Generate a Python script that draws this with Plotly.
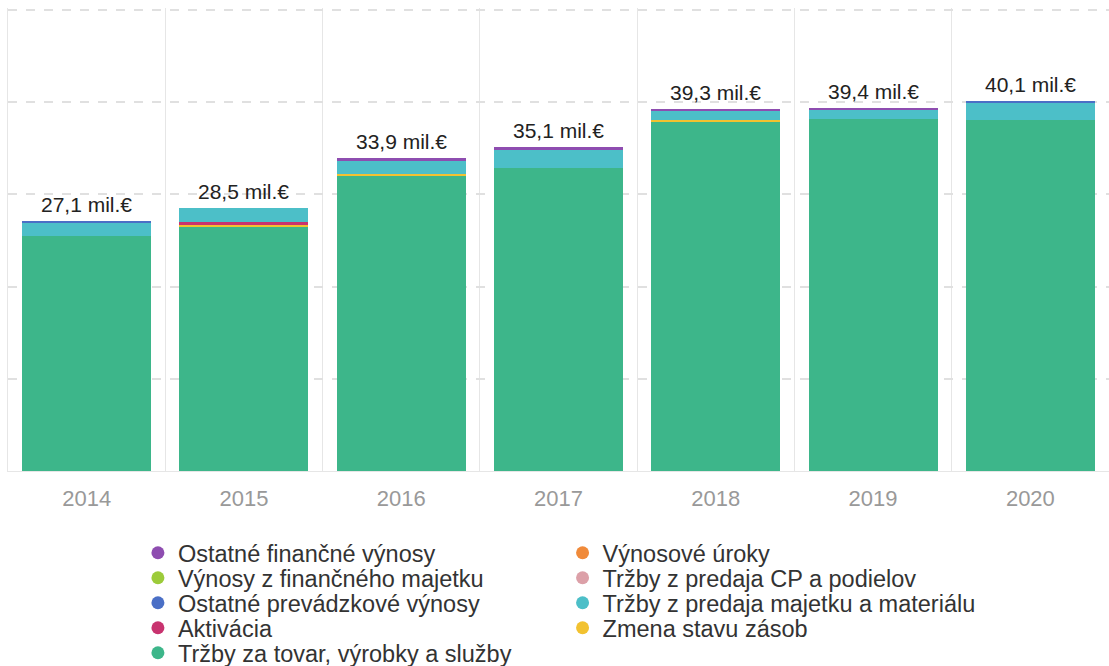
import plotly.graph_objects as go

years = ["2014", "2015", "2016", "2017", "2018", "2019", "2020"]

# values in mil. €
trzby_tovar = [25.45, 26.55, 32.0, 32.85, 37.9, 38.15, 38.1]
zmena_zasob = [0.0, 0.15, 0.15, 0.0, 0.2, 0.0, 0.0]
aktivacia = [0.0, 0.25, 0.0, 0.0, 0.0, 0.0, 0.0]
vynosove_uroky = [0.0, 0.0, 0.0, 0.0, 0.0, 0.0, 0.0]
trzby_cp = [0.0, 0.0, 0.0, 0.0, 0.0, 0.0, 0.0]
vynosy_fin_majetok = [0.0, 0.0, 0.0, 0.0, 0.0, 0.0, 0.0]
trzby_majetok = [1.45, 1.55, 1.5, 1.95, 1.0, 1.05, 1.85]
ostatne_prev = [0.2, 0.0, 0.0, 0.0, 0.0, 0.0, 0.15]
ostatne_fin = [0.0, 0.0, 0.25, 0.3, 0.2, 0.2, 0.0]

totals = [27.1, 28.5, 33.9, 35.1, 39.3, 39.4, 40.1]
total_labels = ["27,1 mil.€", "28,5 mil.€", "33,9 mil.€", "35,1 mil.€",
                "39,3 mil.€", "39,4 mil.€", "40,1 mil.€"]

FONT = "Liberation Sans, Arial, sans-serif"

# stacking order bottom -> top
series = [
    ("Tržby za tovar, výrobky a služby", trzby_tovar, "#3db68a"),
    ("Zmena stavu zásob", zmena_zasob, "#f2c230"),
    ("Aktivácia", aktivacia, "#c8336f"),
    ("Výnosové úroky", vynosove_uroky, "#f08a3a"),
    ("Tržby z predaja CP a podielov", trzby_cp, "#dca0a8"),
    ("Výnosy z finančného majetku", vynosy_fin_majetok, "#9ccb3a"),
    ("Tržby z predaja majetku a materiálu", trzby_majetok, "#4cbfc8"),
    ("Ostatné prevádzkové výnosy", ostatne_prev, "#4a6fc6"),
    ("Ostatné finančné výnosy", ostatne_fin, "#8e4db0"),
]
colors = {name: c for name, _, c in series}

fig = go.Figure()
for name, vals, col in series:
    fig.add_trace(go.Bar(
        x=years, y=vals, name=name, marker=dict(color=col, line=dict(width=0)),
        showlegend=False,
    ))

legend_col1 = ["Ostatné finančné výnosy", "Výnosy z finančného majetku",
               "Ostatné prevádzkové výnosy", "Aktivácia",
               "Tržby za tovar, výrobky a služby"]
legend_col2 = ["Výnosové úroky", "Tržby z predaja CP a podielov",
               "Tržby z predaja majetku a materiálu", "Zmena stavu zásob"]

# layout of the legend (pixel geometry)
PLOT_TOP, PLOT_BOTTOM = 8, 471
PLOT_H = PLOT_BOTTOM - PLOT_TOP
ROW0, ROW_STEP = 553, 25
COL_X = [0.1180, 0.5037]

legend_style = dict(
    font=dict(family=FONT, size=23.5, color="#333333"),
    orientation="v", yanchor="middle", xanchor="left",
    bgcolor="rgba(0,0,0,0)", itemclick=False, itemdoubleclick=False,
)

layout_legends = {}
k = 0
for col, names in enumerate([legend_col1, legend_col2]):
    for row, name in enumerate(names):
        k += 1
        key = "legend" if k == 1 else f"legend{k}"
        yc = ROW0 + row * ROW_STEP
        layout_legends[key] = dict(x=COL_X[col], y=(PLOT_BOTTOM - yc) / PLOT_H, **legend_style)
        fig.add_trace(go.Scatter(
            x=[years[0]], y=[None], mode="markers", name=name,
            marker=dict(color=colors[name], size=13, symbol="circle"),
            legend=key, showlegend=True, hoverinfo="skip",
        ))

# total labels above the bars (x given as category index)
for i, (tot, lab) in enumerate(zip(totals, total_labels)):
    fig.add_annotation(x=i, y=tot, text=lab, showarrow=False, yanchor="bottom",
                       yshift=3, font=dict(family=FONT, size=21, color="#222222"))

fig.update_layout(
    width=1109, height=666,
    margin=dict(l=8, r=0, t=PLOT_TOP, b=666 - PLOT_BOTTOM, autoexpand=False),
    barmode="stack", bargap=0.18,
    plot_bgcolor="white", paper_bgcolor="white",
    font=dict(family=FONT),
    xaxis=dict(
        type="category", categoryorder="array", categoryarray=years,
        range=[-0.5, len(years) - 0.5],
        tickson="boundaries", showgrid=True, gridcolor="#e6e6e6",
        gridwidth=1, ticks="", showline=True, linecolor="#e6e6e6",
        ticklabelstandoff=8,
        tickfont=dict(family=FONT, size=22, color="#999999"),
    ),
    yaxis=dict(
        range=[0, 50.2], dtick=10, showgrid=True, gridcolor="#e0e0e0",
        griddash="dash", gridwidth=1.5, showticklabels=False, zeroline=False,
        showline=True, linecolor="#e6e6e6",
    ),
    **layout_legends,
)

fig.write_html("out.html")
